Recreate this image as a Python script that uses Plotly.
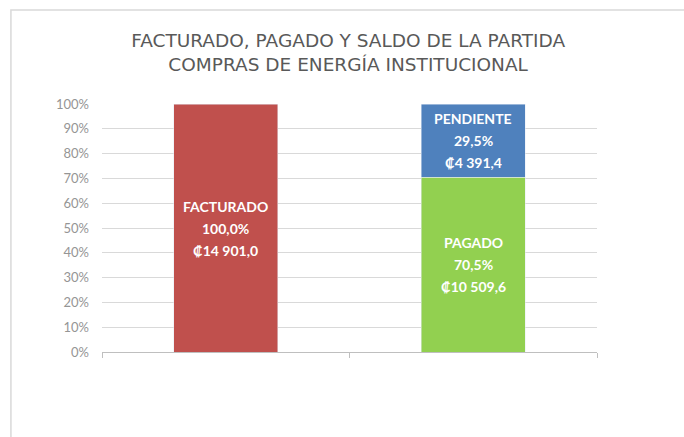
import plotly.graph_objects as go

# Partida: Compras de energía institucional (millones de colones)
categorias = ["Facturado", "Pagado"]
facturado = 14901.0
pagado = 10509.6
pendiente = 4391.4

etiquetas = {"facturado": "FACTURADO", "pagado": "PAGADO", "pendiente": "PENDIENTE"}
ticks_y = [0, 10, 20, 30, 40, 50, 60, 70, 80, 90, 100]
ticks_txt = [f"{t}%" for t in ticks_y]

ROJO = "#c0504d"
VERDE = "#92d050"
AZUL = "#4f81bd"


def fmt_num(v, dec=1):
    s = f"{v:,.{dec}f}"
    return s.replace(",", " ").replace(".", ",")


def pct(v):
    return v / facturado * 100.0


pct_fact = pct(facturado)
pct_pag = pct(pagado)
pct_pend = pct(pendiente)

fig = go.Figure()
fig.add_trace(go.Bar(x=[categorias[0]], y=[pct_fact], marker_color=ROJO,
                     width=0.42, name=etiquetas["facturado"]))
fig.add_trace(go.Bar(x=[categorias[1]], y=[pct_pag], marker_color=VERDE,
                     width=0.42, name=etiquetas["pagado"]))
fig.add_trace(go.Bar(x=[categorias[1]], y=[pct_pend], marker_color=AZUL,
                     width=0.42, name=etiquetas["pendiente"]))

# Etiquetas centradas en cada segmento, una línea por anotación
segmentos = [
    (categorias[0], 0.0, pct_fact, etiquetas["facturado"], facturado),
    (categorias[1], 0.0, pct_pag, etiquetas["pagado"], pagado),
    (categorias[1], pct_pag, pct_pend, etiquetas["pendiente"], pendiente),
]
for cat, base, alto, nombre, monto in segmentos:
    lineas = [nombre, fmt_num(alto) + "%", "₡" + fmt_num(monto)]
    for i, txt in enumerate(lineas):
        fig.add_annotation(x=cat, y=base + alto / 2, text="<b>" + txt + "</b>",
                           showarrow=False, yshift=(1 - i) * 22,
                           font=dict(family="Lato, Open Sans, sans-serif",
                                     size=14, color="white"))

# Marco exterior del gráfico
fig.add_shape(type="rect", xref="paper", yref="paper",
              x0=-0.184, x1=1.4, y0=-0.5, y1=1.379,
              line=dict(color="#d9d9d9", width=1.5), fillcolor="rgba(0,0,0,0)",
              layer="below")

fig.update_layout(
    width=684, height=437,
    margin=dict(l=102, r=87, t=104, b=85),
    paper_bgcolor="white", plot_bgcolor="white",
    barmode="stack", showlegend=False,
    title=dict(text="FACTURADO, PAGADO Y SALDO DE LA PARTIDA<br>COMPRAS DE ENERGÍA INSTITUCIONAL",
               x=0.509, xanchor="center", y=0.893, yanchor="middle",
               font=dict(family="DejaVu Sans, sans-serif", size=18.5, color="#595959")),
)
fig.update_xaxes(type="category", showticklabels=False, tickson="boundaries",
                 ticks="outside", ticklen=5, tickcolor="#bfbfbf",
                 showline=True, linecolor="#bfbfbf", linewidth=1,
                 showgrid=False, range=[-0.5, 1.5])
fig.update_yaxes(range=[0, 100], tickvals=ticks_y, ticktext=ticks_txt,
                 showgrid=True, gridcolor="#d9d9d9", gridwidth=1,
                 zeroline=False, showline=False, ticks="",
                 ticklabelstandoff=12,
                 tickfont=dict(family="Lato, Open Sans, sans-serif", size=13, color="#959595"))

fig.write_html("out.html")
